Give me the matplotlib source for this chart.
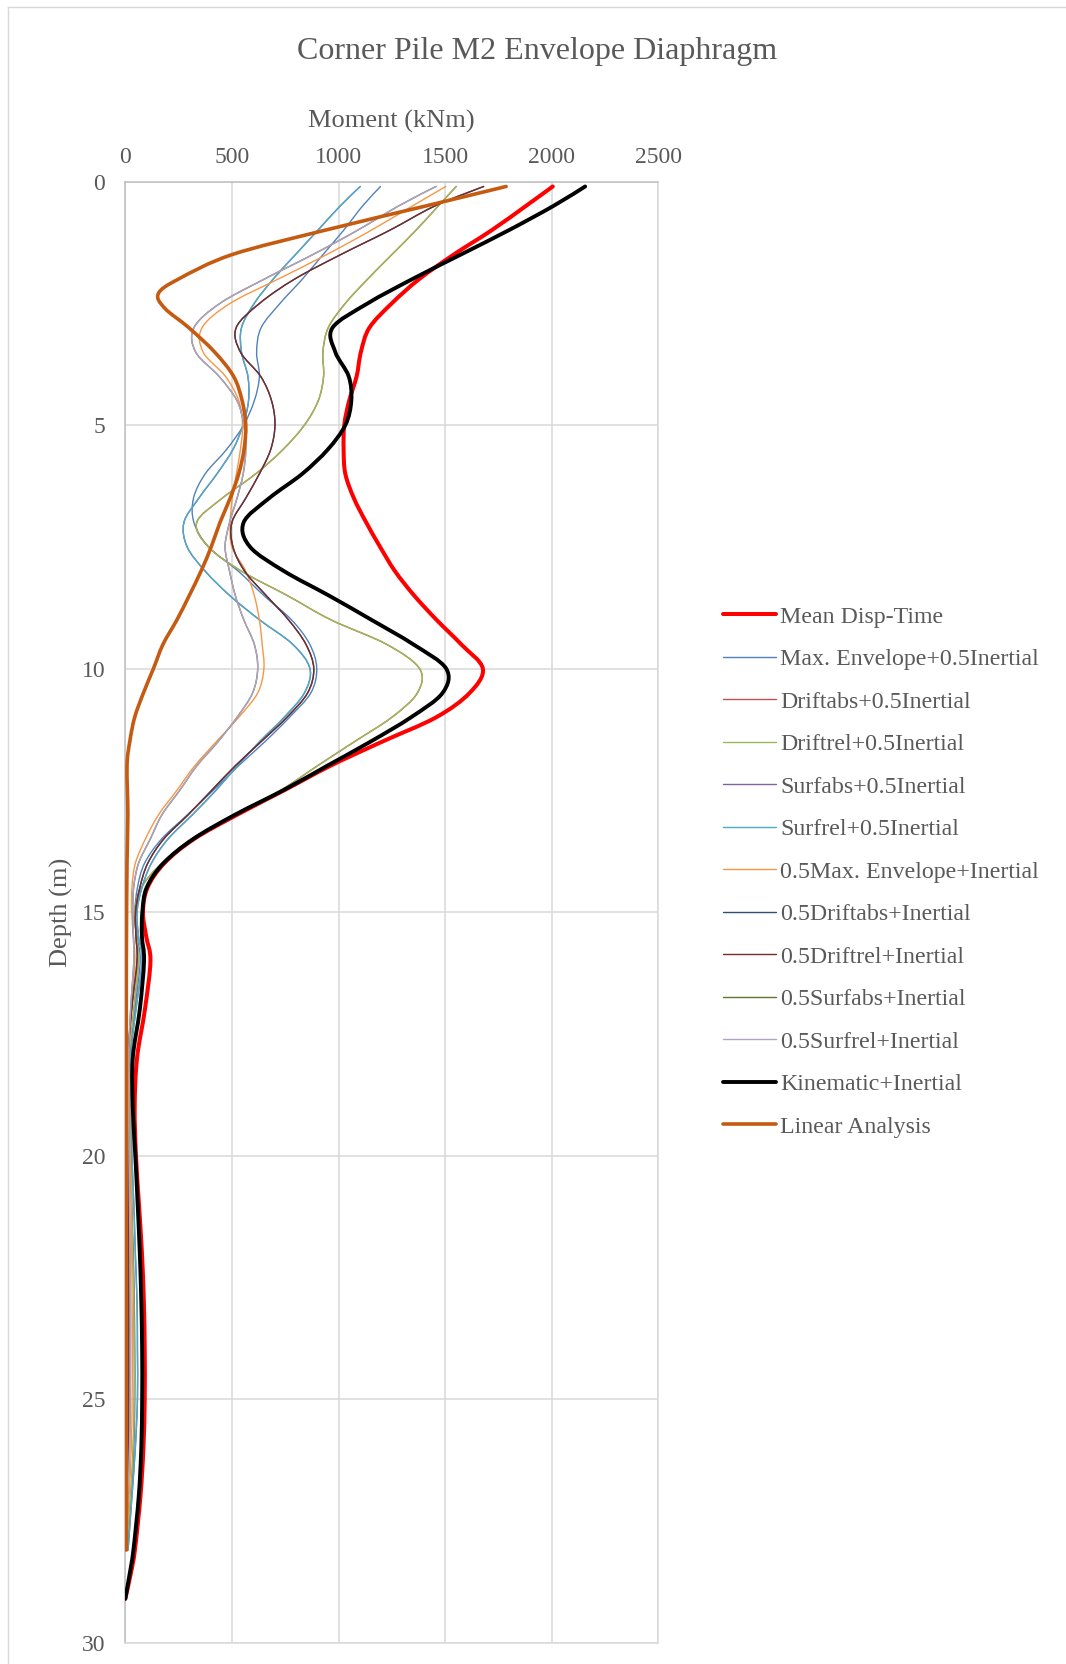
import matplotlib
matplotlib.use("Agg")
import matplotlib.pyplot as plt
import numpy as np
from matplotlib.path import Path
from matplotlib.patches import PathPatch
from matplotlib.lines import Line2D

plt.rcParams['font.family'] = ['Liberation Serif', 'DejaVu Serif']

# ---- data: bending moment (kNm) versus depth (m) ----
depth = [0.1, 0.5, 1.0, 1.5, 2.0, 2.5, 3.0, 3.5, 4.0,
         4.5, 5.0, 5.5, 6.0, 6.5, 7.0, 7.5, 8.0,
         8.5, 9.0, 9.5, 10.0, 10.5, 11.0, 11.5, 12.0,
         12.5, 13.0, 13.5, 14.0, 14.5, 15.0, 15.5, 16.0,
         17.0, 18.0, 19.0, 20.0, 21.0, 22.0, 23.0, 24.0, 25.0, 26.0, 27.0, 28.1]
depth_tip = depth + [28.6, 29.1]

mean_disp = [2005, 1879, 1718, 1540, 1379, 1250, 1145, 1105, 1085,
             1050, 1027, 1024, 1032, 1072, 1130, 1195, 1265,
             1355, 1460, 1575, 1677, 1615, 1458, 1205, 960,
             745, 525, 322, 182, 104, 83, 98, 118,
             92, 55, 44, 50, 64, 78, 87, 91, 91, 85, 71, 45,
             25, 0]

kinematic = [2157, 2008, 1798, 1573, 1347, 1137, 972, 985, 1048,
             1060, 1032, 950, 830, 675, 555, 585, 745,
             955, 1155, 1350, 1505, 1488, 1340, 1150, 945,
             740, 515, 318, 178, 100, 80, 78, 88,
             68, 35, 35, 47, 58, 68, 75, 79, 79, 75, 63, 38,
             20, 0]

max_env = [1197, 1113, 1024, 927, 831, 726, 637, 616, 629,
           605, 555, 475, 375, 320, 322, 390, 530,
           650, 780, 865, 898, 870, 770, 655, 530,
           412, 292, 170, 90, 57, 45, 55, 70,
           45, 22, 22, 25, 30, 38, 42, 45, 45, 40, 28, 10]

# absolute and relative drift / surface cases give the same envelope
drift_half = [1552, 1468, 1363, 1250, 1137, 1032, 952, 927, 930,
              905, 840, 740, 612, 455, 335, 390, 545,
              760, 965, 1225, 1380, 1370, 1250, 1075, 900,
              728, 510, 315, 170, 75, 45, 52, 62,
              40, 20, 22, 26, 30, 35, 40, 42, 42, 37, 25, 8]

surf_half = [1102, 1008, 903, 798, 694, 605, 545, 545, 575,
             578, 552, 505, 430, 345, 275, 290, 375,
             490, 630, 785, 866, 840, 745, 630, 525,
             425, 315, 200, 122, 78, 55, 62, 79,
             50, 24, 28, 31, 40, 47, 55, 57, 57, 47, 31, 13]

max_env_full = [1503, 1347, 1153, 944, 718, 492, 360, 365, 470,
                532, 550, 540, 521, 502, 492, 500, 565,
                605, 629, 642, 650, 621, 532, 427, 325,
                242, 156, 94, 47, 31, 30, 38, 45,
                30, 18, 20, 24, 28, 30, 32, 33, 32, 28, 18, 5]

drift_full = [1681, 1452, 1240, 1010, 795, 630, 520, 540, 635,
              686, 702, 682, 629, 565, 500, 505, 560,
              661, 766, 847, 884, 855, 758, 637, 515,
              405, 295, 180, 105, 68, 48, 50, 55,
              30, 12, 10, 12, 14, 15, 16, 16, 16, 14, 10, 3]

surf_full = [1457, 1282, 1089, 879, 653, 444, 322, 330, 440,
             524, 556, 565, 553, 524, 489, 468, 489,
             516, 556, 605, 621, 597, 524, 435, 335,
             255, 172, 117, 62, 39, 35, 38, 40,
             25, 15, 15, 18, 20, 22, 24, 24, 23, 20, 12, 5]

linear_depth = [0.1, 0.5, 1.0, 1.5, 2.0, 2.3, 2.6, 3.0, 3.5, 4.0, 4.5, 5.0, 5.5,
                6.0, 6.5, 7.0, 7.5, 8.0, 8.5, 9.0, 9.5, 10.0, 10.5, 11.0, 11.5,
                12.0, 13.0, 14.0, 16.0, 18.0, 20.0, 22.0, 24.0, 26.0, 28.1]
linear = [1786, 1410, 935, 500, 250, 155, 185, 298, 419, 508, 548, 565, 557,
          532, 492, 444, 403, 355, 300, 242, 177, 132, 85, 44, 21,
          8, 12, 8, 5, 5, 5, 5, 5, 5, 5]

labels = ["Mean Disp-Time", "Max. Envelope+0.5Inertial", "Driftabs+0.5Inertial",
          "Driftrel+0.5Inertial", "Surfabs+0.5Inertial", "Surfrel+0.5Inertial",
          "0.5Max. Envelope+Inertial", "0.5Driftabs+Inertial", "0.5Driftrel+Inertial",
          "0.5Surfabs+Inertial", "0.5Surfrel+Inertial", "Kinematic+Inertial",
          "Linear Analysis"]
colors = ["#FF0000", "#4F81BD", "#C0504D", "#9BBB59", "#8064A2", "#4BACC6",
          "#F79646", "#2C4D75", "#772C2A", "#5F7530", "#B3A2C7", "#000000",
          "#C55A11"]
widths = [2.9, 1.0, 1.0, 1.0, 1.0, 1.0, 1.0, 1.0, 1.0, 1.0, 1.0, 2.8, 2.6]

series = [(depth_tip, mean_disp), (depth, max_env), (depth, drift_half),
          (depth, drift_half), (depth, surf_half), (depth, surf_half),
          (depth, max_env_full), (depth, drift_full), (depth, drift_full),
          (depth, surf_full), (depth, surf_full), (depth_tip, kinematic),
          (linear_depth, linear)]


def smooth_path(xs, ys):
    """Cubic Bezier path through the points (Catmull-Rom style smoothing)."""
    p = np.column_stack([xs, ys]).astype(float)
    n = len(p)
    verts = [p[0]]
    codes = [Path.MOVETO]
    for i in range(n - 1):
        p0 = p[max(i - 1, 0)]
        p1 = p[i]
        p2 = p[i + 1]
        p3 = p[min(i + 2, n - 1)]
        verts += [p1 + (p2 - p0) / 6.0, p2 - (p3 - p1) / 6.0, p2]
        codes += [Path.CURVE4] * 3
    return Path(verts, codes)


W, H = 1066, 1664
fig = plt.figure(figsize=(W / 100, H / 100), dpi=100)
fig.patch.set_facecolor("white")

# chart border (top and left edges fall inside the canvas)
fig.add_artist(Line2D([8 / W, 1.0], [1 - 7 / H, 1 - 7 / H],
                      transform=fig.transFigure, color="#D9D9D9", lw=1.0))
fig.add_artist(Line2D([8 / W, 8 / W], [0.0, 1 - 7 / H],
                      transform=fig.transFigure, color="#D9D9D9", lw=1.0))

ax = fig.add_axes([125.3 / W, 1 - 1642.6 / H, 533 / W, 1461 / H])
ax.set_xlim(0, 2500)
ax.set_ylim(30, 0)
ax.set_xticks(np.arange(0, 2501, 500))
ax.set_yticks(np.arange(0, 31, 5))
ax.xaxis.tick_top()
ax.grid(True, color="#D9D9D9", lw=1.1)
ax.set_axisbelow(True)
ax.tick_params(axis="both", length=0, labelsize=17, labelcolor="#595959")
ax.tick_params(axis="x", pad=10.0)
ax.tick_params(axis="y", pad=14.5)
for side in ["top", "left"]:
    ax.spines[side].set_color("#BFBFBF")
    ax.spines[side].set_linewidth(1.1)
for side in ["right", "bottom"]:
    ax.spines[side].set_color("#D9D9D9")
    ax.spines[side].set_linewidth(1.1)

handles = []
for k, ((d, m), lab, c, lw) in enumerate(zip(series, labels, colors, widths)):
    patch = PathPatch(smooth_path(m, d), facecolor="none", edgecolor=c, lw=lw,
                      capstyle="round", joinstyle="round", zorder=3 + k * 0.01)
    ax.add_patch(patch)
    handles.append(Line2D([], [], color=c, lw=lw, solid_capstyle="round"))

ax.set_xlabel("Moment (kNm)", fontsize=19, color="#595959")
ax.xaxis.set_label_position("top")
ax.xaxis.set_label_coords(0.4985, (1642.6 - 121) / 1461)
ax.xaxis.label.set_va("center")
ax.set_ylabel("Depth (m)", fontsize=19, color="#595959")
ax.yaxis.set_label_coords(-0.1206, 0.5)
ax.yaxis.label.set_va("center")

fig.text(537 / W, 1 - 51 / H, "Corner Pile M2 Envelope Diaphragm",
         ha="center", va="center", fontsize=23, color="#595959")

leg = fig.legend(handles, labels, loc="upper left",
                 bbox_to_anchor=(723 / W, 1 - 606 / H), frameon=False,
                 fontsize=17.2, handlelength=2.2, handletextpad=0.2,
                 labelspacing=0.87, borderpad=0, borderaxespad=0)
for t in leg.get_texts():
    t.set_color("#595959")

fig.savefig("out.png", dpi=100, facecolor="white")
